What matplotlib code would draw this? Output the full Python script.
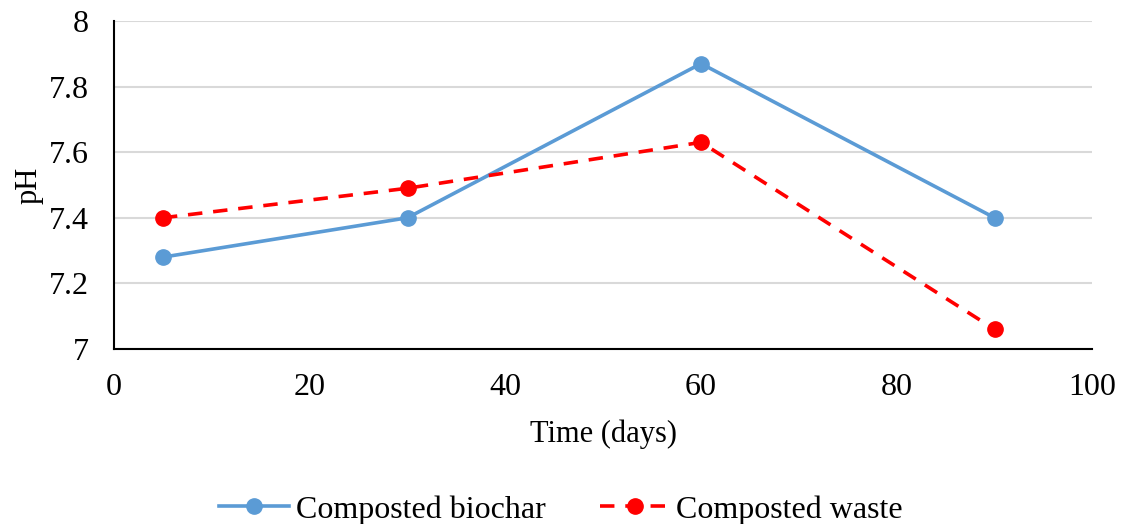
import matplotlib.pyplot as plt

days = [5, 30, 60, 90]
ph_biochar = [7.28, 7.40, 7.87, 7.40]
ph_waste = [7.40, 7.49, 7.63, 7.06]

plt.rcParams['font.family'] = ['Liberation Serif', 'DejaVu Serif']

fig = plt.figure(figsize=(11.22, 5.24), dpi=100)
ax = fig.add_axes([0.1016, 0.334, 0.872, 0.626])

ax.plot(days, ph_biochar, color='#5b9bd5', lw=2.6, marker='o', ms=11,
        label='Composted biochar', zorder=3)
ax.plot(days, ph_waste, color='#ff0000', lw=2.6, ls=(0, (4, 3)), marker='o', ms=11,
        label='Composted waste', zorder=3)

ax.set_xlim(0, 100)
ax.set_ylim(7, 8)
ax.set_xticks(range(0, 101, 20))
ax.set_yticks([7, 7.2, 7.4, 7.6, 7.8, 8])
ax.set_yticklabels(['7', '7.2', '7.4', '7.6', '7.8', '8'])
ax.yaxis.grid(True, color='#d9d9d9', lw=1.5)
ax.set_axisbelow(True)
ax.tick_params(length=0, labelsize=23)
ax.tick_params(axis='x', pad=17)
ax.tick_params(axis='y', pad=18)
for s in ['top', 'right']:
    ax.spines[s].set_visible(False)
for s in ['left', 'bottom']:
    ax.spines[s].set_color('black')
    ax.spines[s].set_linewidth(1.5)

ax.set_xlabel('Time (days)', fontsize=22, labelpad=13)
ax.set_ylabel('pH', fontsize=22, labelpad=4)

fig.legend(loc='center', bbox_to_anchor=(0.5, 0.027), ncol=2, frameon=False,
           fontsize=23, handlelength=2.2, columnspacing=1.7, handletextpad=0.2)

fig.savefig('out.png', dpi=100)
